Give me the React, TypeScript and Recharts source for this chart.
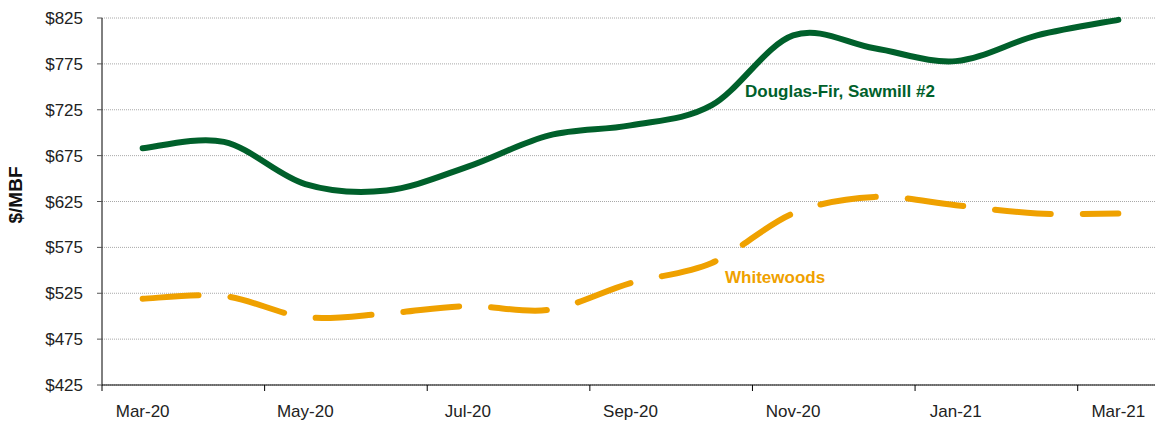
import { LineChart, Line, XAxis, YAxis, CartesianGrid } from "recharts";

const months = ["Mar-20", "Apr-20", "May-20", "Jun-20", "Jul-20", "Aug-20", "Sep-20", "Oct-20", "Nov-20", "Dec-20", "Jan-21", "Feb-21", "Mar-21"];
const douglasFir = [683, 690, 644, 637, 663, 697, 708, 730, 806, 792, 778, 806, 823];
const whitewoods = [519, 522, 499, 503, 511, 507, 536, 558, 612, 630, 621, 612, 612];
const yTicks = [425, 475, 525, 575, 625, 675, 725, 775, 825];
const xTicks = [0, 2, 4, 6, 8, 10, 12];

const GREEN = "#00602B";
const ORANGE = "#EFA100";
const FONT = "'Liberation Sans', Arial, sans-serif";

const CHART_W = 1160;
const CHART_H = 424;
const Y_W = 102;
const RIGHT = 1;
// one month band (axis runs from -0.5 to 12.5)
const BAND = (CHART_W - Y_W - RIGHT) / months.length;

const data = months.map((m, i) => ({
  idx: i,
  month: m,
  douglas: douglasFir[i],
  white: whitewoods[i],
}));

// Excel-like smoothed line (uniform Catmull-Rom), used as a d3 curve factory
const smoothCurve = (context: any) => {
  let pts: number[][] = [];
  return {
    areaStart() {},
    areaEnd() {},
    lineStart() {
      pts = [];
    },
    point(x: number, y: number) {
      pts.push([+x, +y]);
    },
    lineEnd() {
      if (!pts.length) return;
      context.moveTo(pts[0][0], pts[0][1]);
      for (let i = 0; i < pts.length - 1; i++) {
        const p0 = pts[i - 1] || pts[i];
        const p1 = pts[i];
        const p2 = pts[i + 1];
        const p3 = pts[i + 2] || p2;
        context.bezierCurveTo(
          p1[0] + (p2[0] - p0[0]) / 6,
          p1[1] + (p2[1] - p0[1]) / 6,
          p2[0] - (p3[0] - p1[0]) / 6,
          p2[1] - (p3[1] - p1[1]) / 6,
          p2[0],
          p2[1]
        );
      }
    },
  };
};

// label at the month centre, tick mark at the month boundary (Excel style)
const XTick = (props: any) => {
  const { x, y, payload } = props;
  const bx = x - BAND / 2;
  return (
    <g>
      <line x1={bx} x2={bx} y1={y} y2={y + 6} stroke="#000" strokeWidth={1} />
      <text x={x} y={y + 32} textAnchor="middle" fill="#222" fontSize={17} fontFamily={FONT}>
        {months[payload.value]}
      </text>
    </g>
  );
};

export default function App() {
  return (
    <div style={{ position: "absolute", left: 0, top: 0, width: 1155, height: 424, overflow: "hidden", background: "#fff" }}>
      <LineChart
        width={CHART_W}
        height={CHART_H}
        data={data}
        margin={{ top: 18, right: RIGHT, left: 0, bottom: 0 }}
      >
        <CartesianGrid vertical={false} stroke="#a8a8a8" strokeDasharray="1 1" />
        <XAxis
          type="number"
          dataKey="idx"
          domain={[-0.5, 12.5]}
          ticks={xTicks}
          interval={0}
          height={39}
          tickSize={0}
          tickMargin={0}
          tickLine={false}
          axisLine={{ stroke: "#000" }}
          tick={<XTick />}
        />
        <YAxis
          domain={[425, 825]}
          ticks={yTicks}
          interval={0}
          width={Y_W}
          tickSize={5}
          tickMargin={14}
          axisLine={{ stroke: "#000" }}
          tickLine={{ stroke: "#555" }}
          tick={{ fill: "#222", fontSize: 17, fontFamily: FONT }}
          tickFormatter={(v) => `$${v}`}
        />
        <Line
          type={smoothCurve as any}
          dataKey="douglas"
          stroke={GREEN}
          strokeWidth={6}
          strokeLinecap="round"
          dot={false}
          activeDot={false}
          isAnimationActive={false}
        />
        <Line
          type={smoothCurve as any}
          dataKey="white"
          stroke={ORANGE}
          strokeWidth={6}
          strokeLinecap="round"
          strokeDasharray="56 32"
          dot={false}
          activeDot={false}
          isAnimationActive={false}
        />
      </LineChart>
      <svg width={1155} height={424} style={{ position: "absolute", left: 0, top: 0, pointerEvents: "none" }}>
        <text
          transform="translate(22,195) rotate(-90)"
          textAnchor="middle"
          fontSize={19}
          fontWeight="bold"
          fontFamily={FONT}
          fill="#111"
        >
          $/MBF
        </text>
        <text x={745} y={97} fontSize={17} fontWeight="bold" fontFamily={FONT} fill={GREEN}>
          Douglas-Fir, Sawmill #2
        </text>
        <text x={725} y={283} fontSize={17} fontWeight="bold" fontFamily={FONT} fill={ORANGE}>
          Whitewoods
        </text>
      </svg>
    </div>
  );
}
